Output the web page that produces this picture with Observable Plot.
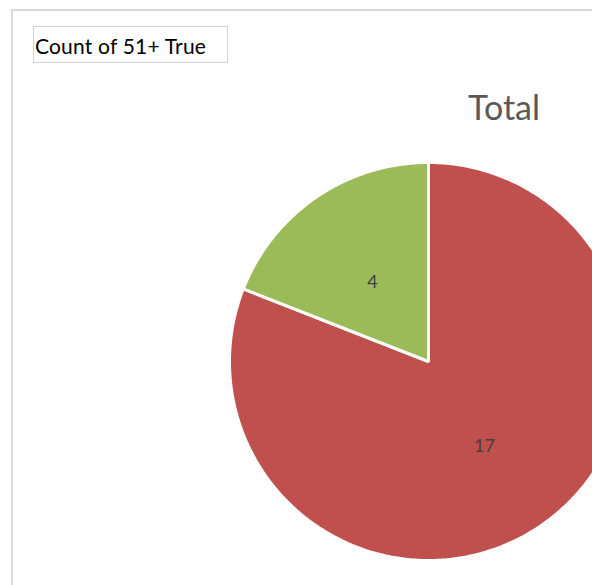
<!DOCTYPE html>
<html>
<head>
<meta charset="utf-8">
<script src="https://cdn.jsdelivr.net/npm/d3@7"></script>
<script src="https://cdn.jsdelivr.net/npm/@observablehq/plot@0.6"></script>
<style>
  html, body { margin: 0; padding: 0; background: #fff; }
  #wrap { position: relative; width: 592px; height: 585px; overflow: hidden; font-family: Lato, "Open Sans", sans-serif; }
  #frame { position: absolute; left: 11px; top: 9px; width: 700px; height: 700px; border-left: 2px solid #d9d9d9; border-top: 2px solid #d9d9d9; }
  #filter { position: absolute; left: 33px; top: 26px; width: 192px; height: 35px; border: 1px solid #d0d0d0; font-size: 21px; line-height: 38px; padding-left: 1px; color: #000; box-sizing: content-box; letter-spacing: 0.2px; }
  #title { position: absolute; left: 468px; top: 86px; font-size: 34px; color: #595959; }
  #chart { position: absolute; left: 0; top: 0; }
</style>
</head>
<body>
<div id="wrap">
  <div id="frame"></div>
  <div id="chart"></div>
  <div id="filter">Count of 51+ True</div>
  <div id="title">Total</div>
</div>
<script>
const categories = ["Red", "Green"];
const values = [17, 4];
const colors = ["#C0504D", "#9BBB59"];
const labels = ["17", "4"];

const pie = d3.pie().sort(null).value(d => d)(values);
const polys = [];
pie.forEach((p, i) => {
  const n = 200;
  polys.push({slice: i, x: 0, y: 0});
  for (let k = 0; k <= n; k++) {
    const a = p.startAngle + (p.endAngle - p.startAngle) * k / n;
    polys.push({slice: i, x: Math.sin(a), y: Math.cos(a)});
  }
});
const labelPts = pie.map((p, i) => {
  const a = (p.startAngle + p.endAngle) / 2;
  return {x: 0.5 * Math.sin(a), y: 0.5 * Math.cos(a), t: labels[i]};
});

const W = 592, H = 585, cx = 428, cy = 361, R = 199;
const plot = Plot.plot({
  width: W, height: H,
  margin: 0,
  x: {domain: [-cx / R, (W - cx) / R], range: [0, W], axis: null},
  y: {domain: [-(H - cy) / R, cy / R], range: [H, 0], axis: null},
  style: {background: "transparent"},
  marks: [
    Plot.line(polys, {x: "x", y: "y", z: "slice", curve: "linear-closed",
      fill: d => colors[d.slice], stroke: "#fff", strokeWidth: 3, strokeLinejoin: "miter"}),
    Plot.text(labelPts, {x: "x", y: "y", text: "t", dy: 3, fontSize: 18, fill: "#404040", fontFamily: "Lato, 'Open Sans', sans-serif"})
  ]
});
document.getElementById("chart").appendChild(plot);
</script>
</body>
</html>
